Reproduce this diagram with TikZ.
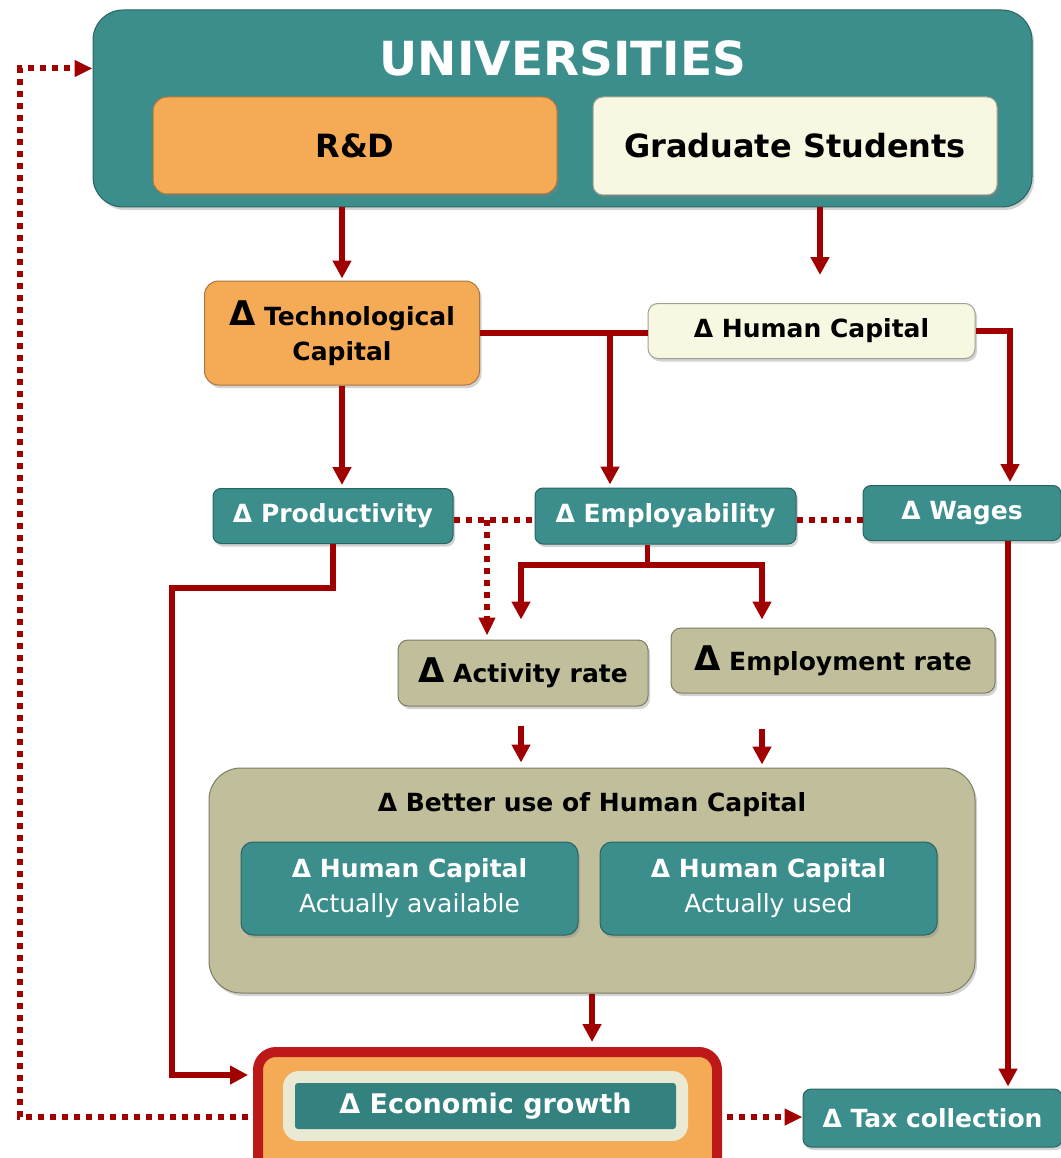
\documentclass[tikz,border=0pt]{standalone}
\usepackage{fontspec}
\setmainfont{DejaVu Sans}
\usetikzlibrary{arrows.meta,shadows}

\definecolor{tealc}{RGB}{59,142,140}
\definecolor{darktealc}{RGB}{52,130,127}
\definecolor{orangec}{RGB}{245,170,85}
\definecolor{creamc}{RGB}{248,248,226}
\definecolor{tanc}{RGB}{193,191,155}
\definecolor{bandc}{RGB}{234,234,212}
\definecolor{arrred}{RGB}{160,0,0}
\definecolor{ringred}{RGB}{190,25,25}

\newcommand{\bigdelta}{{\fontsize{34}{34}\selectfont Δ}}

\tikzset{
  base/.style={inner sep=0pt, align=center, font=\fontsize{25}{35}\selectfont\bfseries,
    drop shadow={shadow xshift=2pt, shadow yshift=-3pt, opacity=0.35}},
  tealbox/.style={base, rounded corners=8pt, fill=tealc, draw=tealc!70!black, line width=1pt, text=white},
  orangebox/.style={base, rounded corners=14pt, fill=orangec, draw=orangec!70!black, line width=1pt},
  creambox/.style={base, rounded corners=10pt, fill=creamc, draw=creamc!65!black, line width=1pt},
  tanbox/.style={base, rounded corners=10pt, fill=tanc, draw=tanc!65!black, line width=1pt},
  link/.style={draw=arrred, line width=5.5pt},
  arr/.style={link, -{Triangle[length=18pt,width=18pt]}},
  dots/.style={draw=arrred, line width=6pt, dash pattern=on 6pt off 6pt},
  dotarr/.style={dots, -{Triangle[length=18pt,width=16pt]}},
}

\begin{document}
\begin{tikzpicture}[x=1pt, y=-1pt]
    \useasboundingbox (0,0) rectangle (1060,1158);
    % universities
    \node[tealbox, rounded corners=30pt, minimum width=939pt, minimum height=197pt] (univ) at (562.5,108.5) {};
    \node[text=white, font=\fontsize{47}{47}\selectfont\bfseries] (univtitle) at (563,58) {UNIVERSITIES};
    \node[orangebox, minimum width=404pt, minimum height=97pt, font=\fontsize{32}{32}\selectfont\bfseries] (rd) at (355,145.5) {R\&D};
    \node[creambox, minimum width=404pt, minimum height=98pt, font=\fontsize{32}{32}\selectfont\bfseries] (grad) at (795,146) {Graduate Students};
    % capital
    \node[orangebox, minimum width=275pt, minimum height=104pt] (tech) at (342,333) {\bigdelta{} Technological\\Capital};
    \node[creambox, minimum width=327pt, minimum height=55pt] (hcap) at (811.5,331) {Δ Human Capital};
    % effects
    \node[tealbox, minimum width=240pt, minimum height=55pt] (prod) at (333,516) {Δ Productivity};
    \node[tealbox, minimum width=261pt, minimum height=56pt] (empl) at (665.5,516) {Δ Employability};
    \node[tealbox, minimum width=198pt, minimum height=55pt] (wages) at (962,513) {Δ Wages};
    % rates
    \node[tanbox, minimum width=250pt, minimum height=66pt] (act) at (523,673) {\bigdelta{} Activity rate};
    \node[tanbox, minimum width=324pt, minimum height=65pt] (emprate) at (833,660.5) {\bigdelta{} Employment rate};
    % better use of human capital
    \node[tanbox, rounded corners=32pt, minimum width=766pt, minimum height=225pt] (better) at (592,880.5) {};
    \node[font=\fontsize{25}{25}\selectfont\bfseries] (bettertitle) at (592,805) {Δ Better use of Human Capital};
    \node[tealbox, rounded corners=12pt, minimum width=337pt, minimum height=93pt] (hcavail) at (409.5,888.5) {Δ Human Capital\\{\mdseries Actually available}};
    \node[tealbox, rounded corners=12pt, minimum width=337pt, minimum height=93pt] (hcused) at (768.5,888.5) {Δ Human Capital\\{\mdseries Actually used}};
    % economic growth and tax
    \node[base, fill=orangec, draw=ringred, line width=10pt, rounded corners=18pt, minimum width=459pt, minimum height=124pt] (econ) at (487.5,1114) {};
    \node[fill=bandc, rounded corners=16pt, inner sep=0pt, minimum width=405pt, minimum height=70pt] (econband) at (485.5,1106) {};
    \node[fill=darktealc, rounded corners=3pt, inner sep=0pt, minimum width=381pt, minimum height=46pt, text=white, font=\fontsize{27}{27}\selectfont\bfseries] (econtext) at (485.5,1106) {Δ Economic growth};
    \node[tealbox, minimum width=259pt, minimum height=58pt] (tax) at (932.5,1118) {Δ Tax collection};
    % helper points
    \coordinate (gradend) at (820,275);
    \coordinate (branch) at (610,333);
    \coordinate (leftbend) at (172,588);
    \coordinate (splitL) at (521,565);
    \coordinate (splitR) at (762,565);
    \coordinate (dotdrop) at (487,520);
    \coordinate (loopx) at (20,0);
    % arrows from universities
    \draw[arr, shorten >=2pt] (univ.south -| tech.north) -- (tech.north);
    \draw[arr] (univ.south -| gradend) -- (gradend);
    % capital links
    \draw[link] (tech.east) -- (hcap.west |- tech.east);
    \draw[arr, shorten >=3pt] (branch) -- (branch |- empl.north);
    \draw[arr, shorten >=3pt] (hcap.east) -| ([xshift=48pt]wages.north);
    \draw[arr, shorten >=3pt] (tech.south) -- (tech.south |- prod.north);
    % dotted links
    \draw[dots] ([yshift=-4pt]prod.east) -- ([yshift=-4pt]empl.west |- prod.east);
    \draw[dots] ([yshift=-4pt]empl.east) -- ([yshift=-4pt]wages.west |- empl.east);
    \draw[dotarr, shorten >=4pt] (dotdrop) -- (dotdrop |- act.north);
    % employability split
    \draw[arr, shorten >=20pt] ([xshift=-18pt]empl.south) |- (splitL) -- (splitL |- act.north);
    \draw[arr, shorten >=8pt] ([xshift=-18pt]empl.south) |- (splitR) -- (splitR |- emprate.north);
    \draw[arr, shorten <=19pt, shorten >=5pt] (splitL |- act.south) -- (splitL |- better.north);
    \draw[arr, shorten <=35pt, shorten >=3pt] (splitR |- emprate.south) -- (splitR |- better.north);
    % into economic growth
    \draw[arr] (prod.south) |- (leftbend) |- ([xshift=-5pt, yshift=39pt]econ.west);
    \draw[arr, shorten >=5pt] (better.south) -- (better.south |- econ.north);
    \draw[arr, shorten >=2pt] ([xshift=46pt]wages.south) -- ([xshift=46pt]wages.south |- tax.north);
    % feedback loops
    \draw[dotarr] ([xshift=-5pt, yshift=-3pt]econ.west) -- ([yshift=-3pt]econ.west -| loopx) |- ([yshift=40pt]univ.west);
    \draw[dotarr] ([xshift=5pt, yshift=-3pt]econ.east) -- ([yshift=-3pt]econ.east -| tax.west);
\end{tikzpicture}
\end{document}
